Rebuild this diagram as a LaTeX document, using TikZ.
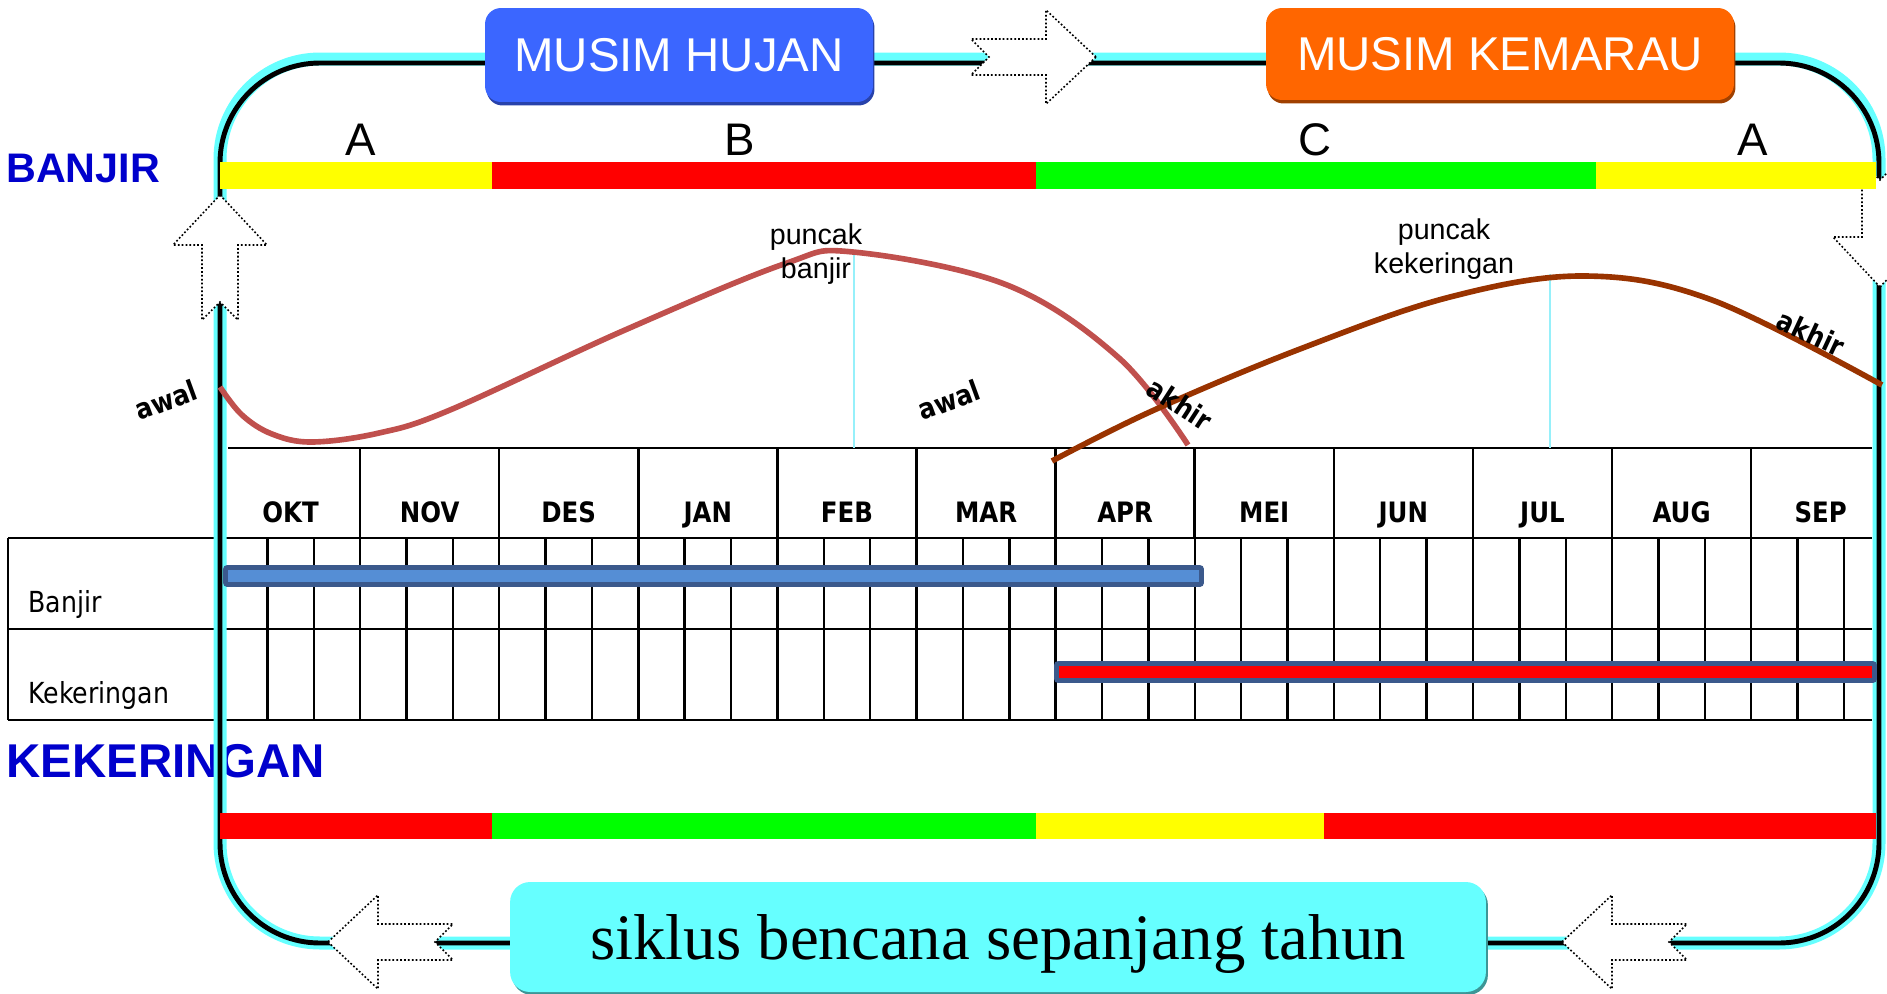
\documentclass[tikz,border=0pt]{standalone}
\usepackage{fontspec}
\newfontfamily\arialfont{Liberation Sans}
\newfontfamily\timesfont{Liberation Serif}
\newfontfamily\tahomafont[FakeStretch=0.87]{DejaVu Sans}
\usetikzlibrary{shadows}

\definecolor{hujanblue}{RGB}{59,102,255}
\definecolor{hujanedge}{RGB}{40,66,170}
\definecolor{kemarauorange}{RGB}{255,102,0}
\definecolor{kemarauedge}{RGB}{160,64,0}
\definecolor{sikluscyan}{RGB}{102,255,255}
\definecolor{siklusedge}{RGB}{60,150,150}
\definecolor{glowcyan}{RGB}{102,255,255}
\definecolor{labelblue}{RGB}{0,0,204}
\definecolor{barred}{RGB}{255,0,0}
\definecolor{baryellow}{RGB}{255,255,0}
\definecolor{bargreen}{RGB}{0,255,0}
\definecolor{floodcurve}{RGB}{192,80,77}
\definecolor{droughtcurve}{RGB}{153,51,0}
\definecolor{ganttblue}{RGB}{85,142,213}
\definecolor{ganttedge}{RGB}{59,89,140}
\definecolor{peakline}{RGB}{150,240,250}

\begin{document}
\begin{tikzpicture}[x=0.02cm,y=-0.02cm]

\tikzset{season/.style={rounded corners=0.32cm,inner sep=0pt,text=white,
  font={\arialfont\fontsize{27}{32}\selectfont}}}
\tikzset{phase/.style={anchor=base,inner sep=0pt,font={\arialfont\fontsize{26}{30}\selectfont}}}
\tikzset{month/.style={anchor=base,inner sep=0pt,font={\tahomafont\bfseries\fontsize{16}{19}\selectfont}}}
\tikzset{rowname/.style={anchor=base west,inner sep=0pt,font={\tahomafont\fontsize{16.5}{19}\selectfont}}}
\tikzset{ends/.style={inner sep=0pt,font={\tahomafont\bfseries\fontsize{16}{19}\selectfont}}}
\tikzset{peak/.style={anchor=base,align=center,inner sep=0pt,font={\arialfont\fontsize{16.3}{19.3}\selectfont}}}
\tikzset{gridline/.style={line width=1.4pt}}
\tikzset{ganttbar/.style={draw=ganttedge,line width=2.8pt,rounded corners=0.04cm}}
\tikzset{blockarrow/.pic={
  \draw[line width=0.9pt,dash pattern=on 1pt off 1.2pt,fill=white]
    (0,0)--(-50,-47)--(-50,-18)--(-125,-18)--(-107,0)--(-125,18)--(-50,18)--(-50,47)--cycle;}}

\clip (0,0) rectangle (1887,994);

%grid
\draw[gridline] (228,448)--(1872,448);
\foreach \y in {538,629,720}
  \draw[gridline] (8,\y)--(1872,\y);
\draw[gridline] (8,538)--(8,720);
\foreach \i in {1,...,11}
  \draw[gridline] ({221+139.1*\i},448)--({221+139.1*\i},538);
\foreach \k in {1,...,35}
  \draw[gridline] ({221+46.37*\k},538)--({221+46.37*\k},720);

%months
\foreach \m [count=\i from 0] in {OKT,NOV,DES,JAN,FEB,MAR,APR,MEI,JUN,JUL,AUG,SEP}
  \node[month] (m\i) at ({221+139.1*(\i+0.5)},522) {\m};

%row names
\node[rowname] (rowbanjir) at (28,612) {Banjir};
\node[rowname] (rowkering) at (28,703) {Kekeringan};

%side labels
\node[anchor=base west,inner sep=0pt,text=labelblue,font={\arialfont\bfseries\fontsize{23.5}{27}\selectfont}] (banjirlbl) at (6,182) {BANJIR};
\node[anchor=base west,inner sep=0pt,text=labelblue,font={\arialfont\bfseries\fontsize{27}{32}\selectfont}] (keringlbl) at (6,777) {KEKERINGAN};

%cycle line
\coordinate (loopnw) at (220,63);
\coordinate (loopse) at (1879,943);
\draw[glowcyan,line width=7.4pt,rounded corners=2cm] ([yshift=0.08cm]loopnw) rectangle (loopse);
\draw[line width=2.8pt,rounded corners=2cm] (loopnw) rectangle (loopse);

%peak markers
\draw[peakline,line width=0.6pt] (854,252)--(854,448);
\draw[peakline,line width=0.6pt] (1550,274)--(1550,448);

%flood curve
\draw[floodcurve,line width=3.2pt] plot[smooth,tension=0.6] coordinates {(220,387) (242,415) (272,434) (312,442) (379,433) (450,410) (625,330) (784,264) (853,252) (1007,285) (1119,358) (1188,445)};

%drought curve
\draw[droughtcurve,line width=3.2pt] plot[smooth,tension=0.6] coordinates {(1052,461) (1152,411) (1300,349) (1450,297) (1585,276) (1712,300) (1882,385)};

%gantt bars
\draw[ganttbar,fill=ganttblue] (225.5,567.5) rectangle (1201.5,584.5);
\draw[ganttbar,fill=barred] (1056.5,663.5) rectangle (1874.5,680.5);

%arrow right side
\pic[rotate=-90] at (1880,287) {blockarrow};

%banjir bar
\fill[baryellow] (220,162) rectangle (492,189);
\fill[barred] (492,162) rectangle (1036,189);
\fill[bargreen] (1036,162) rectangle (1596,189);
\fill[baryellow] (1596,162) rectangle (1876,189);

%kekeringan bar
\fill[barred] (220,813) rectangle (492,839);
\fill[bargreen] (492,813) rectangle (1036,839);
\fill[baryellow] (1036,813) rectangle (1324,839);
\fill[barred] (1324,813) rectangle (1876,839);

%phase letters
\node[phase] (pa1) at (361,155) {A};
\node[phase] (pb) at (740,155) {B};
\node[phase] (pc) at (1315,155) {C};
\node[phase] (pa2) at (1753,155) {A};

%season boxes
\node[season,fill=hujanblue,minimum width=7.76cm,minimum height=1.88cm,
  drop shadow={shadow xshift=0.03cm,shadow yshift=-0.07cm,fill=hujanedge,opacity=1}] (hujan) at (679,55) {MUSIM HUJAN};
\node[season,fill=kemarauorange,minimum width=9.36cm,minimum height=1.84cm,
  drop shadow={shadow xshift=0.03cm,shadow yshift=-0.07cm,fill=kemarauedge,opacity=1}] (kemarau) at (1500,54) {MUSIM KEMARAU};
\node[rounded corners=0.4cm,inner sep=0pt,fill=sikluscyan,minimum width=19.52cm,minimum height=2.2cm,
  text depth=0pt,font={\timesfont\fontsize{36.9}{42}\selectfont},
  drop shadow={shadow xshift=0.04cm,shadow yshift=-0.06cm,fill=siklusedge,opacity=1}] (siklus) at (998,937) {siklus bencana sepanjang tahun};

%arrows on the cycle
\pic[rotate=90] at (220,195) {blockarrow};
\pic at (1096,57) {blockarrow};
\pic[rotate=180] at (328,942) {blockarrow};
\pic[rotate=180] at (1562,942) {blockarrow};

%peak texts
\node[peak] (pbanjir) at (816,278) {puncak\\banjir};
\node[peak] (pkering) at (1444,273) {puncak\\kekeringan};

%awal / akhir
\node[ends,rotate=20] (awal1) at (166,400) {awal};
\node[ends,rotate=20] (awal2) at (949,400) {awal};
\node[ends,rotate=-33] (akhir1) at (1180,404) {akhir};
\node[ends,rotate=-25] (akhir2) at (1811,333) {akhir};

\end{tikzpicture}
\end{document}
